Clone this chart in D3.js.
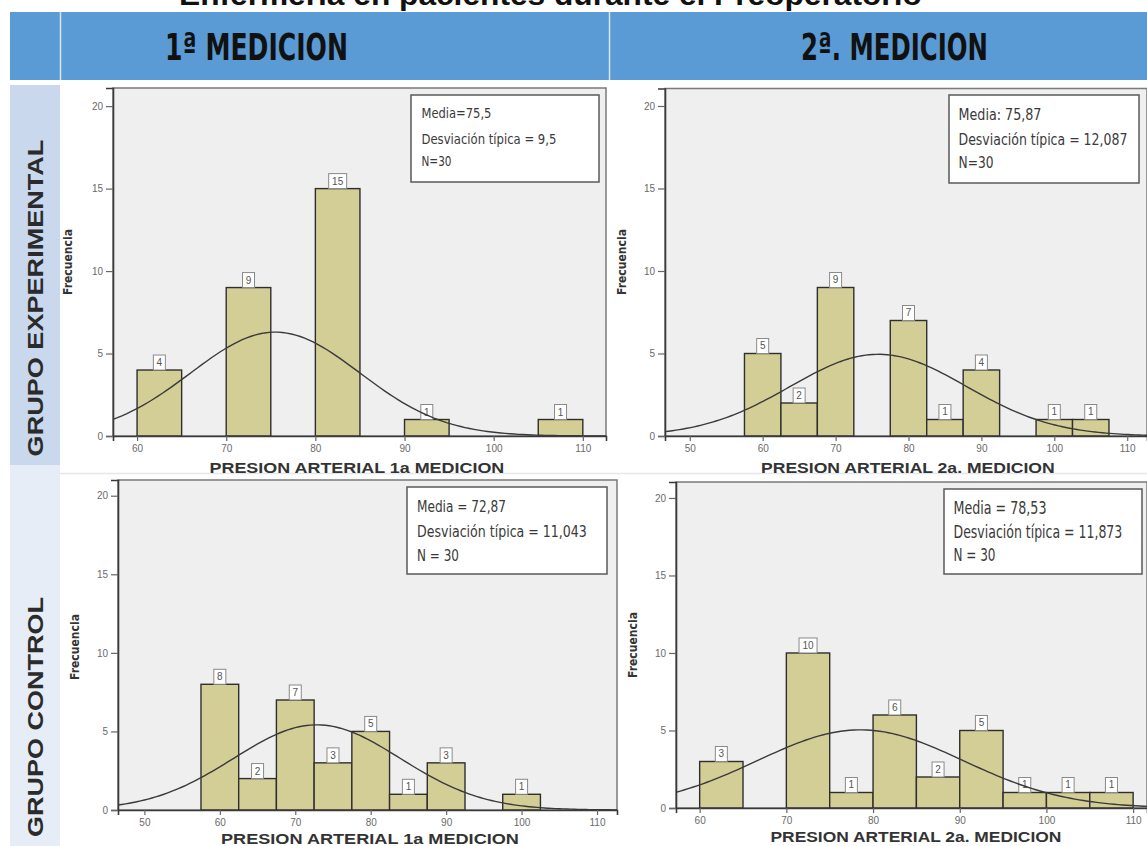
<!DOCTYPE html>
<html>
<head>
<meta charset="utf-8">
<script src="https://cdn.jsdelivr.net/npm/d3@7"></script>
<style>
  body { margin: 0; background: #fff; }
  svg { display: block; }
</style>
</head>
<body>
<div id="chart-area"></div>
<script>
// ---- data ----
const pageTitle = 'Enfermería en pacientes durante el Preoperatorio';
const columnLabels = ['1ª  MEDICION', '2ª. MEDICION'];
const rowLabels = ['GRUPO EXPERIMENTAL', 'GRUPO CONTROL'];
const xTitles = ['PRESION ARTERIAL 1a MEDICION', 'PRESION ARTERIAL 2a. MEDICION'];
const yTicks = [0, 5, 10, 15, 20];
const binWidth = 5;

// lower edge of each bar and its count
const exp1Bins = [60, 70, 80, 90, 105];
const exp1Counts = [4, 9, 15, 1, 1];
const exp2Bins = [57.5, 62.5, 67.5, 77.5, 82.5, 87.5, 97.5, 102.5];
const exp2Counts = [5, 2, 9, 7, 1, 4, 1, 1];
const ctl1Bins = [57.5, 62.5, 67.5, 72.5, 77.5, 82.5, 87.5, 97.5];
const ctl1Counts = [8, 2, 7, 3, 5, 1, 3, 1];
const ctl2Bins = [60, 70, 75, 80, 85, 90, 95, 100, 105];
const ctl2Counts = [3, 10, 1, 6, 2, 5, 1, 1, 1];

// mean, sd, n
const exp1Stats = [75.5, 9.5, 30];
const exp2Stats = [75.87, 12.087, 30];
const ctl1Stats = [72.87, 11.043, 30];
const ctl2Stats = [78.53, 11.873, 30];

const exp1Legend = ['Media=75,5', 'Desviación típica  = 9,5', 'N=30'];
const exp2Legend = ['Media:  75,87', 'Desviación típica = 12,087', 'N=30'];
const ctl1Legend = ['Media  = 72,87', 'Desviación típica = 11,043', 'N = 30'];
const ctl2Legend = ['Media  = 78,53', 'Desviación típica = 11,873', 'N = 30'];

const ticks1 = [60, 70, 80, 90, 100, 110];
const ticks2 = [50, 60, 70, 80, 90, 100, 110];

// ---- layout ----
const W = 1147, H = 846;
const narrow = '"Liberation Sans Narrow", "DejaVu Sans Condensed", "Roboto Condensed", sans-serif';
const sans = '"Liberation Sans", Arial, sans-serif';

const svg = d3.select('#chart-area')
  .append('svg')
    .attr('width', W)
    .attr('height', H);

// text squeezed/stretched horizontally to a given width
// (x,y) is the anchor point, rot an optional rotation
const fitText = (parent, str, x, y, width, opts) => {
  const t = parent.append('text')
    .attr('text-anchor', opts.anchor || 'start')
    .attr('font-family', opts.family)
    .attr('font-weight', opts.weight || 'normal')
    .attr('font-size', opts.size)
    .attr('fill', opts.fill)
    .text(str);
  const natural = t.node().getComputedTextLength() || width;
  const sx = width / natural;
  t.attr('transform', 'translate(' + x + ',' + y + ')' + (opts.rot ? ' rotate(' + opts.rot + ')' : '') + ' scale(' + sx + ',1)');
  return t;
};

// page title (cut off at the top, as in the source)
fitText(svg, pageTitle, 179, 5, 743, { family: sans, weight: 'bold', size: 30, fill: '#111' });

// header band
svg.append('rect').attr('x', 10).attr('y', 12).attr('width', W - 10).attr('height', 68).attr('fill', '#5b9bd5');
[60.5, 609.5].forEach(x => {
  svg.append('line').attr('x1', x).attr('x2', x).attr('y1', 12).attr('y2', 80)
    .attr('stroke', '#d6e4f4').attr('stroke-width', 1.5);
});
const headerPos = [{ x: 165, w: 183 }, { x: 801, w: 187 }];
columnLabels.forEach((lab, i) => {
  fitText(svg, lab, headerPos[i].x, 60, headerPos[i].w, { family: narrow, weight: 'bold', size: 38, fill: '#111' });
});

// row header cells
const rowCells = [{ y: 85, h: 380, fill: '#c9d8ec', cy: 298, len: 317 }, { y: 465, h: 381, fill: '#e7edf6', cy: 717, len: 240 }];
rowLabels.forEach((lab, i) => {
  const c = rowCells[i];
  svg.append('rect').attr('x', 10).attr('y', c.y).attr('width', 50).attr('height', c.h).attr('fill', c.fill);
  fitText(svg, lab, 43, c.cy, c.len, { family: sans, weight: 'bold', size: 22, fill: '#2b2b2b', anchor: 'middle', rot: -90 });
});

// faint row separator
svg.append('line').attr('x1', 60).attr('x2', W).attr('y1', 473.5).attr('y2', 473.5)
  .attr('stroke', '#e4e8ee').attr('stroke-width', 1.5);

const panels = [
  { bins: exp1Bins, counts: exp1Counts, stats: exp1Stats, legend: exp1Legend, ticks: ticks1, title: xTitles[0],
    left: 113, right: 606, top: 88, bottom: 436, xd: [57.3, 112.6], ytop: 21.1,
    lg: { x: 411, y: 95, w: 188, h: 87, tx: 421.5, base: [118, 144, 166], fs: 14, widths: [70, 135, 30] },
    fq: { x: 68, y: 262 }, xt: { cx: 357, y: 473, w: 295 } },
  { bins: exp2Bins, counts: exp2Counts, stats: exp2Stats, legend: exp2Legend, ticks: ticks2, title: xTitles[1],
    left: 665, right: 1160, top: 88.5, bottom: 436, xd: [46.6, 114.5], ytop: 21.06,
    lg: { x: 949, y: 95, w: 190, h: 88, tx: 958.5, base: [120, 145, 168], fs: 16, widths: [83, 169, 35] },
    fq: { x: 622, y: 262 }, xt: { cx: 908, y: 473, w: 294 } },
  { bins: ctl1Bins, counts: ctl1Counts, stats: ctl1Stats, legend: ctl1Legend, ticks: ticks2, title: xTitles[0],
    left: 118, right: 617, top: 480, bottom: 810, xd: [46.5, 112.65], ytop: 21.0,
    lg: { x: 407, y: 487, w: 200, h: 87, tx: 417, base: [512, 537, 561], fs: 16, widths: [89, 170, 42] },
    fq: { x: 75, y: 647 }, xt: { cx: 370, y: 844, w: 298 } },
  { bins: ctl2Bins, counts: ctl2Counts, stats: ctl2Stats, legend: ctl2Legend, ticks: ticks1, title: xTitles[1],
    left: 676, right: 1160, top: 482, bottom: 808, xd: [57.27, 113.1], ytop: 21.03,
    lg: { x: 944, y: 489, w: 198, h: 85, tx: 953.5, base: [514, 538, 561], fs: 17, widths: [93, 169, 42] },
    fq: { x: 633, y: 645 }, xt: { cx: 916, y: 842, w: 291 } }
];

const normalPdf = (x, m, s) => Math.exp(-0.5 * ((x - m) / s) ** 2) / (s * Math.sqrt(2 * Math.PI));

panels.forEach((p, idx) => {
  const x = d3.scaleLinear().domain(p.xd).range([p.left, p.right]);
  const y = d3.scaleLinear().domain([0, p.ytop]).range([p.bottom, p.top]);
  const g = svg.append('g');

  // plot area (right-hand charts run past the page edge)
  const plotRight = Math.min(p.right, W);
  g.append('rect')
    .attr('x', p.left).attr('y', p.top)
    .attr('width', plotRight - p.left).attr('height', p.bottom - p.top)
    .attr('fill', '#efefef').attr('stroke', '#7a7a7a').attr('stroke-width', 1.5);

  const clipId = 'clip' + idx;
  svg.append('clipPath').attr('id', clipId)
    .append('rect').attr('x', p.left).attr('y', p.top)
    .attr('width', plotRight - p.left).attr('height', p.bottom - p.top);

  // bars
  const data = p.bins.map((b, i) => ({ x0: b, count: p.counts[i] }));
  g.selectAll('rect.bar')
    .data(data)
    .enter()
    .append('rect')
      .attr('class', 'bar')
      .attr('x', d => x(d.x0))
      .attr('y', d => y(d.count))
      .attr('width', d => x(d.x0 + binWidth) - x(d.x0))
      .attr('height', d => y(0) - y(d.count))
      .attr('fill', '#d3cd96')
      .attr('stroke', '#2e2e2e')
      .attr('stroke-width', 1.4);

  // count labels
  const labs = g.selectAll('g.lab')
    .data(data)
    .enter()
    .append('g')
      .attr('class', 'lab')
      .attr('transform', d => 'translate(' + (x(d.x0) + x(d.x0 + binWidth)) / 2 + ',' + y(d.count) + ')');
  labs.append('rect')
    .attr('x', d => -(String(d.count).length * 6 + 6) / 2)
    .attr('y', -15)
    .attr('width', d => String(d.count).length * 6 + 6)
    .attr('height', 15)
    .attr('fill', '#fff').attr('stroke', '#8a8a8a').attr('stroke-width', 1);
  labs.append('text')
    .attr('y', -4)
    .attr('text-anchor', 'middle')
    .attr('font-family', sans)
    .attr('font-size', 10).attr('fill', '#555')
    .text(d => d.count);

  // normal curve
  const [m, s, n] = p.stats;
  const pts = d3.range(p.xd[0], p.xd[1] + 0.5, 0.5).map(v => [v, n * binWidth * normalPdf(v, m, s)]);
  g.append('path')
    .datum(pts)
    .attr('clip-path', 'url(#' + clipId + ')')
    .attr('fill', 'none')
    .attr('stroke', '#3a3a3a')
    .attr('stroke-width', 1.4)
    .attr('d', d3.line().x(d => x(d[0])).y(d => y(d[1])));

  // axes
  const xAxis = g.append('g')
    .attr('transform', 'translate(0,' + p.bottom + ')')
    .call(d3.axisBottom(x.copy().domain([p.xd[0], x.invert(plotRight)]).range([p.left, plotRight]))
      .tickValues(p.ticks).tickSize(5).tickPadding(4));
  const yAxis = g.append('g')
    .attr('transform', 'translate(' + p.left + ',0)')
    .call(d3.axisLeft(y).tickValues(yTicks).tickSize(7).tickPadding(3));
  [xAxis, yAxis].forEach(a => {
    a.select('.domain').attr('stroke', '#3a3a3a').attr('stroke-width', 1.6);
    a.selectAll('.tick line').attr('stroke', '#666').attr('stroke-width', 1.2);
    a.selectAll('.tick text')
      .attr('font-family', sans)
      .attr('font-size', 10).attr('fill', '#6a6a6a');
  });

  // legend box
  g.append('rect')
    .attr('x', p.lg.x).attr('y', p.lg.y).attr('width', p.lg.w).attr('height', p.lg.h)
    .attr('fill', '#fff').attr('stroke', '#5a5a5a').attr('stroke-width', 1.5);
  p.legend.forEach((t, i) => {
    fitText(g, t, p.lg.tx, p.lg.base[i], p.lg.widths[i], { family: narrow, size: p.lg.fs, fill: '#3a3a3a' });
  });

  // axis titles
  fitText(g, 'Frecuencia', p.fq.x + 4, p.fq.y, 66,
    { family: narrow, weight: 'bold', size: 12, fill: '#333', anchor: 'middle', rot: -90 });
  fitText(g, p.title, p.xt.cx - p.xt.w / 2, p.xt.y, p.xt.w,
    { family: sans, weight: 'bold', size: 14, fill: '#333' });
});
</script>
</body>
</html>
